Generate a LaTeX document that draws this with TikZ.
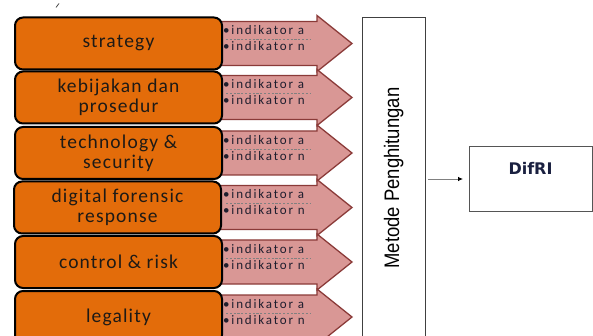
\documentclass[tikz,border=0pt]{standalone}
\usepackage{fontspec}
\usepackage{graphicx}
\usetikzlibrary{arrows.meta}
\setmainfont{Carlito}
\newfontfamily\boxfont[LetterSpace=6]{Carlito}
\newfontfamily\indfont[LetterSpace=14]{Carlito}
\newfontfamily\metfont{Liberation Sans}
\newfontfamily\diffont{DejaVu Sans}
\definecolor{orangeF}{HTML}{E36C0A}
\definecolor{pinkF}{HTML}{D99795}
\definecolor{pinkD}{HTML}{8A3A38}
\definecolor{boxtxt}{HTML}{1E1A16}
\definecolor{indtxt}{HTML}{1E1E2E}
\definecolor{difD}{HTML}{555555}
\definecolor{diftxt}{HTML}{1A2040}
\begin{document}
\begin{tikzpicture}[x=1pt,y=-1pt,
  obox/.style={draw=black, line width=2pt, rounded corners=8pt, fill=orangeF,
    minimum width=207pt, minimum height=52pt, align=center, inner sep=0pt,
    font=\boxfont\fontsize{19.5}{20}\selectfont, text=boxtxt},
  arrowshape/.style={fill=pinkF, draw=pinkD, line width=1.3pt, line join=miter},
  ind/.style={font=\indfont\fontsize{13}{14}\selectfont, anchor=base west,
    inner sep=0pt, text=indtxt},
  sepline/.style={draw=gray, dash pattern=on 2.2pt off 1.6pt, line width=0.6pt},
  plainbox/.style={draw=difD, line width=1pt, inner sep=0pt, anchor=north west}
  ]
\useasboundingbox (0,0) rectangle (593,336);
\clip (0,0) rectangle (593,336);
% pink arrows
\foreach \c in {43.5, 97.5, 153, 207.5, 262, 317}{
  \draw[arrowshape] (210,\c-22) -- (317,\c-22) -- (317,\c-28) -- (352,\c)
     -- (317,\c+28) -- (317,\c+22) -- (210,\c+22) -- cycle;
}
% orange boxes
\node[obox] (b1) at (118.5,43.5) {strategy};
\node[obox] (b2) at (118.5,97.5) {kebijakan dan\\prosedur};
\node[obox] (b3) at (118.5,153) {technology \&\\security};
\node[obox] (b4) at (117.5,207.5) {digital forensic\\response};
\node[obox] (b5) at (118.5,262) {control \& risk};
\node[obox] (b6) at (118.5,317) {legality};
% indicators
\foreach \c/\n in {43.5/1, 97.5/2, 153/3, 207.5/4, 262/5, 317/6}{
  \node[ind] (ia\n) at (223,\c-8.5) {•indikator a};
  \node[ind] (in\n) at (223,\c+7.5) {•indikator n};
  \draw[sepline] (226,\c-4) -- (310,\c-4);
}
% Metode Penghitungan
\node[plainbox, draw=black!75, line width=1.2pt, minimum width=63pt, minimum height=340pt] (met) at (362,17) {};
\node[rotate=90, anchor=base, inner sep=0pt, font=\metfont\fontsize{21}{24}\selectfont]
  (mett) at (399,178) {\scalebox{0.88}[1]{Metode Penghitungan}};
% DifRI
\node[plainbox, minimum width=123pt, minimum height=65pt] (dif) at (469,146) {};
\node[anchor=base, inner sep=0pt, text=diftxt, font=\diffont\bfseries\fontsize{16}{18}\selectfont]
  (dift) at (530.5,175) {DifRI};
\draw[gray, line width=0.8pt, shorten <=2pt, shorten >=6pt,
  -{Latex[black,length=5pt,width=4.5pt]}] (met.east |- dif.west) -- (dif.west);
% stray tick
\draw[gray!60!black, line width=0.8pt] (56,7.5) -- (59,3.5);
\end{tikzpicture}
\end{document}
